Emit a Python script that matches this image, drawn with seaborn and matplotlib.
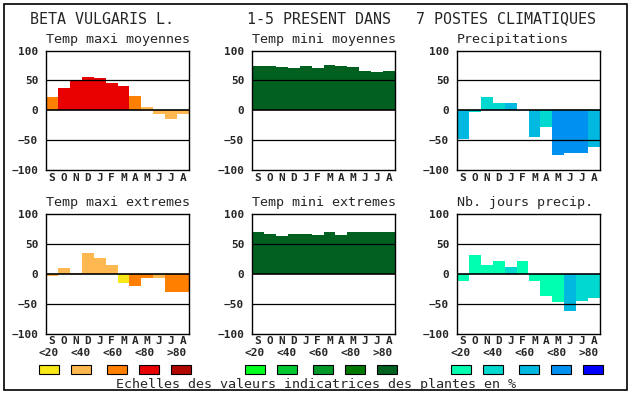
import pandas as pd
import seaborn as sns
import matplotlib.pyplot as plt
from matplotlib.patches import Rectangle

sns.set_theme(style="white")
plt.rcParams["font.family"] = ["DejaVu Sans Mono", "DejaVu Sans"]

# Data (Sept -> Aug)
months = ["S", "O", "N", "D", "J", "F", "M", "A", "M", "J", "J", "A"]
classes = ["<20", "<40", "<60", "<80", ">80"]

warm = ["#F8E818", "#FFB850", "#FF8000", "#E80000", "#B00800"]
green = ["#00FF20", "#00C830", "#009828", "#007800", "#006020"]
blue = ["#00FFB0", "#00D8D0", "#00B8E0", "#0090F0", "#0000FF"]

tmax_moy = [22, 37, 50, 55, 54, 45, 40, 24, 5, -6, -15, -6]
tmax_moy_cls = [2, 3, 3, 3, 3, 3, 3, 2, 1, 1, 1, 1]

tmin_moy = [74, 74, 72, 71, 74, 71, 76, 74, 72, 66, 64, 66]
tmin_moy_cls = [4] * 12

precip = [-48, -3, 22, 12, 12, 0, -45, -28, -75, -72, -72, -62]
precip_cls = [2, 1, 1, 1, 2, 1, 2, 1, 3, 3, 3, 2]

tmax_ext = [-4, 10, 2, 34, 27, 14, -15, -20, -7, -7, -30, -30]
tmax_ext_cls = [1, 1, 1, 1, 1, 1, 0, 2, 2, 1, 2, 2]

tmin_ext = [70, 67, 64, 67, 67, 65, 70, 65, 70, 70, 70, 70]
tmin_ext_cls = [4] * 12

njours = [-12, 32, 14, 22, 12, 22, -12, -38, -48, -63, -46, -41]
njours_cls = [0, 0, 0, 0, 1, 0, 0, 0, 0, 2, 1, 1]

panels = [
    ("Temp maxi moyennes", tmax_moy, tmax_moy_cls, warm),
    ("Temp mini moyennes", tmin_moy, tmin_moy_cls, green),
    ("Precipitations", precip, precip_cls, blue),
    ("Temp maxi extremes", tmax_ext, tmax_ext_cls, warm),
    ("Temp mini extremes", tmin_ext, tmin_ext_cls, green),
    ("Nb. jours precip.", njours, njours_cls, blue),
]

W, H = 630, 394
fig = plt.figure(figsize=(W / 100, H / 100), dpi=100)
fig.patch.set_facecolor("white")

# frame around the whole figure
fig.patches.append(Rectangle((4 / W, 1 - 390 / H), 622.5 / W, 386.5 / H,
                             transform=fig.transFigure, fill=False,
                             edgecolor="black", linewidth=1.2))

col_x = [46, 252, 457]
row_top = [50.5, 214]
ax_w, ax_h = 143, 119.5

for i, (title, vals, cls, pal) in enumerate(panels):
    r, c = divmod(i, 3)
    x0, y0 = col_x[c], row_top[r]
    ax = fig.add_axes([x0 / W, 1 - (y0 + ax_h) / H, ax_w / W, ax_h / H])
    df = pd.DataFrame({"pos": range(12), "val": vals,
                       "cls": [classes[k] for k in cls]})
    sns.barplot(data=df, x="pos", y="val", hue="cls", hue_order=classes,
                palette=dict(zip(classes, pal)), dodge=False, width=1.0,
                saturation=1, errorbar=None, linewidth=0, legend=False,
                ax=ax, zorder=2)
    ax.set_xlim(-0.5, 11.5)
    ax.set_ylim(-100, 100)
    ax.set_yticks([-100, -50, 0, 50, 100])
    ax.set_xticks(range(12))
    ax.set_xticklabels(months)
    ax.set_xlabel("")
    ax.set_ylabel("")
    ax.tick_params(axis="y", length=0, pad=5.5, labelsize=8)
    ax.tick_params(axis="x", length=0, pad=2, labelsize=8)
    for lab in ax.get_xticklabels() + ax.get_yticklabels():
        lab.set_fontweight("bold")
    ax.axhline(50, color="black", lw=0.9, zorder=3)
    ax.axhline(-50, color="black", lw=0.9, zorder=3)
    ax.axhline(0, color="black", lw=1.2, zorder=3)
    for sp in ax.spines.values():
        sp.set_color("black")
        sp.set_linewidth(1.0)
        sp.set_zorder(4)
    fig.text(x0 / W, 1 - (y0 - 8) / H, title, fontsize=9.6,
             ha="left", va="baseline")

# main header
fig.text(30.5 / W, 1 - 23.5 / H, "BETA VULGARIS L.", fontsize=10.8,
         ha="left", va="baseline")
fig.text(247.3 / W, 1 - 23.5 / H, "1-5 PRESENT DANS", fontsize=10.8,
         ha="left", va="baseline")
fig.text(416.5 / W, 1 - 23.5 / H, "7 POSTES CLIMATIQUES", fontsize=10.8,
         ha="left", va="baseline")

# colour scales
group_x = [39, 245, 451]
box_off = [0, 32, 68, 100, 132]
for gx, pal in zip(group_x, [warm, green, blue]):
    for k in range(5):
        fig.text((gx + 31.9 * k + 10) / W, 1 - 353.5 / H, classes[k],
                 fontsize=8, fontweight="bold", ha="center", va="center")
        fig.patches.append(Rectangle(((gx + box_off[k]) / W, 1 - 374 / H),
                                     20 / W, 9.5 / H,
                                     transform=fig.transFigure,
                                     facecolor=pal[k], edgecolor="black",
                                     linewidth=0.8))

fig.text(315.5 / W, 1 - 388 / H,
         "Echelles des valeurs indicatrices des plantes en %",
         fontsize=9.6, ha="center", va="baseline")

plt.savefig("out.png", dpi=100)
plt.close()
